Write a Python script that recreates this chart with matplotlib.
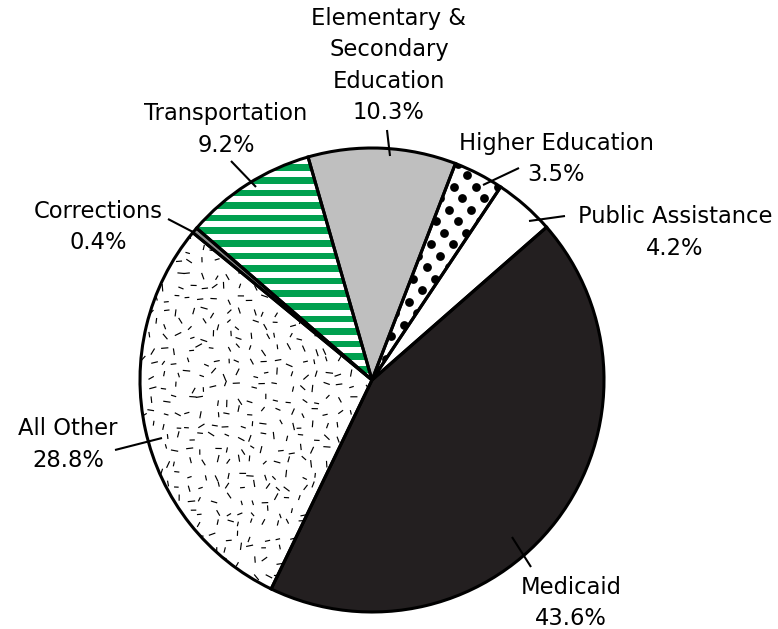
import numpy as np
import matplotlib
matplotlib.use("Agg")
import matplotlib.pyplot as plt
from matplotlib.patches import Wedge
from matplotlib.collections import LineCollection

# shares in clockwise order starting at the top
categories = ["Elementary &\nSecondary\nEducation", "Higher Education", "Public Assistance",
              "Medicaid", "All Other", "Corrections", "Transportation"]
shares = [10.3, 3.5, 4.2, 43.6, 28.8, 0.4, 9.2]
fills = ["#bfbfbf", "white", "white", "#231f20", "white", "#8a8a8a", "white"]

W, H = 778, 629
cx, cy, R = 372, H - 380, 232
GREEN = "#00a04f"

def py(y):
    # reference pixel rows count from the top
    return H - y

fig = plt.figure(figsize=(W / 100, H / 100), dpi=100)
ax = fig.add_axes([0, 0, 1, 1])

wedges, _ = ax.pie(shares, colors=fills, startangle=106, counterclock=False,
                   center=(cx, cy), radius=R, wedgeprops=dict(linewidth=0, zorder=1))
ax.set_xlim(0, W)
ax.set_ylim(0, H)
ax.set_aspect("equal")
ax.axis("off")

# Transportation: green horizontal stripes
w_tr = wedges[6]
for y in np.arange(cy - R, cy + R, 12.6):
    band = ax.axhspan(y, y + 6.6, color=GREEN, lw=0, zorder=1.5)
    band.set_clip_path(w_tr)

# Higher Education: large black dots
w_he = wedges[1]
pts = []
for j, y in enumerate(np.arange(cy - R, cy + R, 11.5)):
    off = 11 if j % 2 else 0
    for x in np.arange(cx - R, cx + R, 22):
        pts.append((x + off + 0.2 * (y - cy), y))
pts = np.array(pts)
dots = ax.scatter(pts[:, 0], pts[:, 1], s=40, color="black", lw=0, zorder=1.5)
dots.set_clip_path(w_he)

# All Other: scattered short dashes
w_ao = wedges[4]
rng = np.random.default_rng(7)
segs = []
for y in np.arange(cy - R, cy + R, 12.5):
    for x in np.arange(cx - R, cx + R, 12.5):
        px = x + rng.uniform(-4, 4)
        pyy = y + rng.uniform(-4, 4)
        ang = rng.choice([rng.uniform(55, 125), rng.uniform(-20, 20), rng.uniform(20, 160)])
        ln = rng.uniform(4.5, 7.5)
        dx, dy = np.cos(np.radians(ang)) * ln / 2, np.sin(np.radians(ang)) * ln / 2
        segs.append([(px - dx, pyy - dy), (px + dx, pyy + dy)])
lc = LineCollection(segs, colors="black", linewidths=0.85, zorder=1.5)
ax.add_collection(lc)
lc.set_clip_path(w_ao)

# outlines on top
for w in wedges:
    ax.add_patch(Wedge(w.center, w.r, w.theta1, w.theta2, fill=False,
                       edgecolor="black", lw=2.2, zorder=3))

# labels and leader lines
labels = [
    ("Elementary &\nSecondary\nEducation\n10.3%", 389, 65.5, [(387, 130), (390, 156)]),
    ("Higher Education\n3.5%", 556, 159, [(519, 168), (483, 185)]),
    ("Public Assistance\n4.2%", 675, 232.5, [(565, 216), (529, 221)]),
    ("Medicaid\n43.6%", 571, 603, [(512, 537), (531, 567)]),
    ("All Other\n28.8%", 68, 444.5, [(115, 450), (162, 438)]),
    ("Corrections\n0.4%", 98, 227, [(168, 219), (193, 232)]),
    ("Transportation\n9.2%", 226, 129.5, [(231, 161), (256, 187)]),
]
for text, tx, ty, line in labels:
    ax.text(tx, py(ty), text, ha="center", va="center", fontsize=16.3,
            linespacing=1.45, family="DejaVu Sans", color="black")
    (x0, y0), (x1, y1) = line
    ax.plot([x0, x1], [py(y0), py(y1)], color="black", lw=1.5, zorder=4,
            solid_capstyle="butt")

fig.savefig("out.png", dpi=100)
